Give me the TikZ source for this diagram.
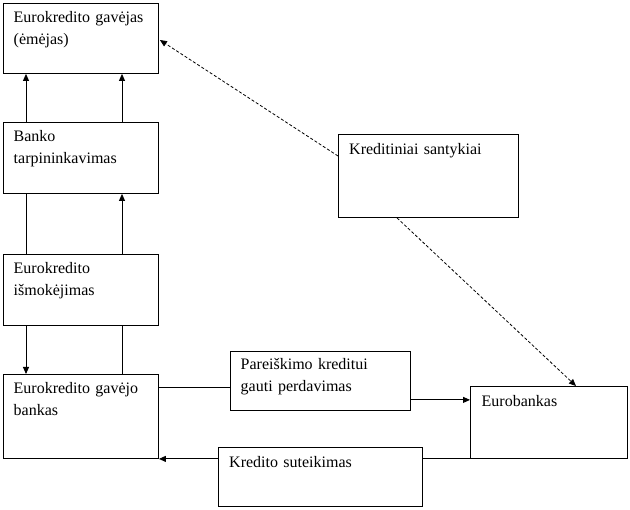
\documentclass[tikz,border=0pt]{standalone}
\usepackage{fontspec}
\setmainfont{Liberation Serif}
\usetikzlibrary{calc,arrows.meta}
\begin{document}
\begin{tikzpicture}[x=1pt,y=-1pt,
  box/.style={draw,line width=0.9pt,rectangle,inner sep=0pt,anchor=north west},
  lbl/.style={anchor=base west,inner sep=0pt,text width=#1,align=left,
    font=\fontsize{16}{21.5}\selectfont},
  lbl/.default=170pt,
  link/.style={line width=0.9pt},
  arr/.style={line width=0.9pt,-{Triangle[length=7pt,width=6pt]}},
  darr/.style={line width=0.8pt,dash pattern=on 3pt off 2pt,-{Triangle[length=7pt,width=6pt]}}]
\useasboundingbox (0,0) rectangle (630,510);
% boxes
\node[box,minimum width=155pt,minimum height=70pt] (A) at (3,3) {};
\node[box,minimum width=155pt,minimum height=71pt] (B) at (3,122) {};
\node[box,minimum width=155pt,minimum height=71pt] (C) at (3,254) {};
\node[box,minimum width=155pt,minimum height=84pt] (D) at (3,374) {};
\node[box,minimum width=180pt,minimum height=59pt] (E) at (230,351) {};
\node[box,minimum width=204pt,minimum height=59pt] (F) at (218,447) {};
\node[box,minimum width=157pt,minimum height=72pt] (G) at (470,386) {};
\node[box,minimum width=180pt,minimum height=83pt] (H) at (338,134) {};
% labels
\node[lbl] (tA) at ($(A.north west)+(10.5,20)$) {Eurokredito gavėjas\\(ėmėjas)};
\node[lbl] (tB) at ($(B.north west)+(10.5,20)$) {Banko\\tarpininkavimas};
\node[lbl] (tC) at ($(C.north west)+(10.5,20)$) {Eurokredito\\išmokėjimas};
\node[lbl] (tD) at ($(D.north west)+(10.5,20)$) {Eurokredito gavėjo\\bankas};
\node[lbl] (tE) at ($(E.north west)+(10.5,19)$) {Pareiškimo kreditui\\gauti perdavimas};
\node[lbl] (tF) at ($(F.north west)+(11,20.5)$) {Kredito suteikimas};
\node[lbl] (tG) at ($(G.north west)+(11.5,20.5)$) {Eurobankas};
\node[lbl] (tH) at ($(H.north west)+(11,21)$) {Kreditiniai santykiai};
% vertical connectors
\draw[arr] ($(B.north west)+(23,0)$) -- ($(A.south west)+(23,0)$);
\draw[arr] ($(B.north west)+(119,0)$) -- ($(A.south west)+(119,0)$);
\draw[link] ($(C.north west)+(23,0)$) -- ($(B.south west)+(23,0)$);
\draw[arr] ($(C.north west)+(119,0)$) -- ($(B.south west)+(119,0)$);
\draw[arr] ($(C.south west)+(23,0)$) -- ($(D.north west)+(23,0)$);
\draw[link] ($(D.north west)+(119,0)$) -- ($(C.south west)+(119,0)$);
% horizontal connectors
\coordinate (d1) at ($(D.north east)+(0,13)$);
\draw[link] (d1) -- (d1 -| E.west);
\coordinate (e1) at ($(E.south east)+(0,-11)$);
\draw[arr] (e1) -- (e1 -| G.west);
\draw[link] (G.south west) -- (G.south west -| F.east);
\draw[arr] (D.south east -| F.west) -- (D.south east);
% dashed connectors
\draw[darr] ($(H.north west)+(0,22)$) -- ($(A.north east)+(1,37)$);
\draw[darr] ($(H.south west)+(59,0)$) -- ($(G.north west)+(106,0)$);
\end{tikzpicture}
\end{document}
